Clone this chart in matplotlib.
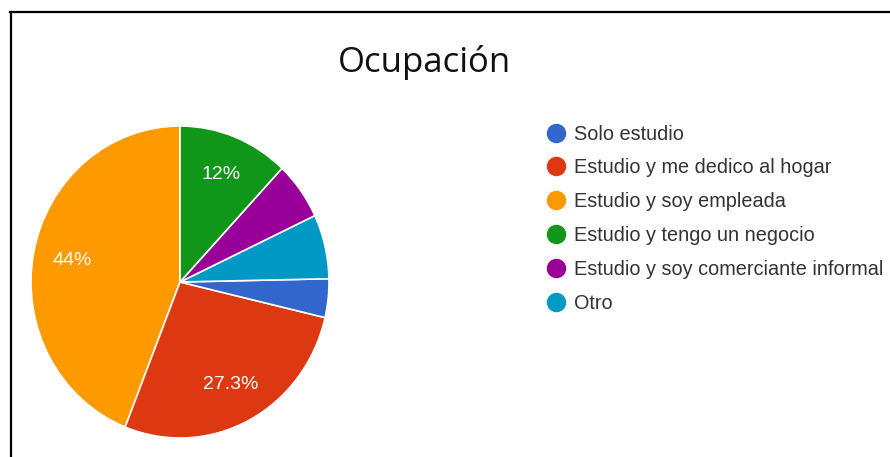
import matplotlib
matplotlib.use("Agg")
import matplotlib.pyplot as plt
from matplotlib.lines import Line2D

W, H = 890, 457
categories = ["Solo estudio", "Estudio y me dedico al hogar", "Estudio y soy empleada",
              "Estudio y tengo un negocio", "Estudio y soy comerciante informal", "Otro"]
counts = [6, 41, 66, 18, 9, 10]
colors = ["#3366cc", "#dc3912", "#ff9900", "#109618", "#990099", "#0099c6"]
pct_labels = ["", "27.3%", "44%", "12%", "", ""]
draw_order = [2, 1, 0, 5, 4, 3]   # counter-clockwise from the top

fig = plt.figure(figsize=(W / 100, H / 100), dpi=100)
fig.patch.set_facecolor("white")

cx, cy, rx, ry = 180, 282, 149, 156
ax = fig.add_axes([(cx - rx) / W, (H - cy - ry) / H, 2 * rx / W, 2 * ry / H])
vals = [counts[i] for i in draw_order]
cols = [colors[i] for i in draw_order]
labs = [pct_labels[i] for i in draw_order]
wedges, texts = ax.pie(vals, colors=cols, startangle=90, counterclock=True,
                       wedgeprops=dict(edgecolor="white", linewidth=1.2),
                       labels=labs, labeldistance=0.74,
                       textprops=dict(color="white", fontsize=14, family="Liberation Sans"))
for t in texts:
    t.set_ha("center")
    t.set_va("center")
ax.set_xlim(-1, 1)
ax.set_ylim(-1, 1)
ax.set_aspect("auto")
ax.axis("off")

fig.text(424 / W, 1 - 62 / H, "Ocupación", ha="center", va="center",
         fontsize=25, family="Open Sans", color="#111111")

handles = [Line2D([], [], marker="o", linestyle="none", markersize=13,
                  markerfacecolor=c, markeredgecolor=c) for c in colors]
leg = fig.legend(handles, categories, loc="upper left",
                 bbox_to_anchor=(545 / W, 1 - 124.5 / H), frameon=False,
                 prop=dict(family="Liberation Sans", size=14.3),
                 labelspacing=0.75, handletextpad=0.35, handlelength=1.1,
                 borderaxespad=0, borderpad=0)
for t in leg.get_texts():
    t.set_color("#333333")

# frame lines (top and left)
fig.add_artist(Line2D([10 / W, 1], [1 - 11.5 / H, 1 - 11.5 / H], color="black",
                      linewidth=1.6, transform=fig.transFigure))
fig.add_artist(Line2D([10.5 / W, 10.5 / W], [0, 1 - 11.5 / H], color="black",
                      linewidth=1.6, transform=fig.transFigure))

fig.savefig("out.png", dpi=100)
